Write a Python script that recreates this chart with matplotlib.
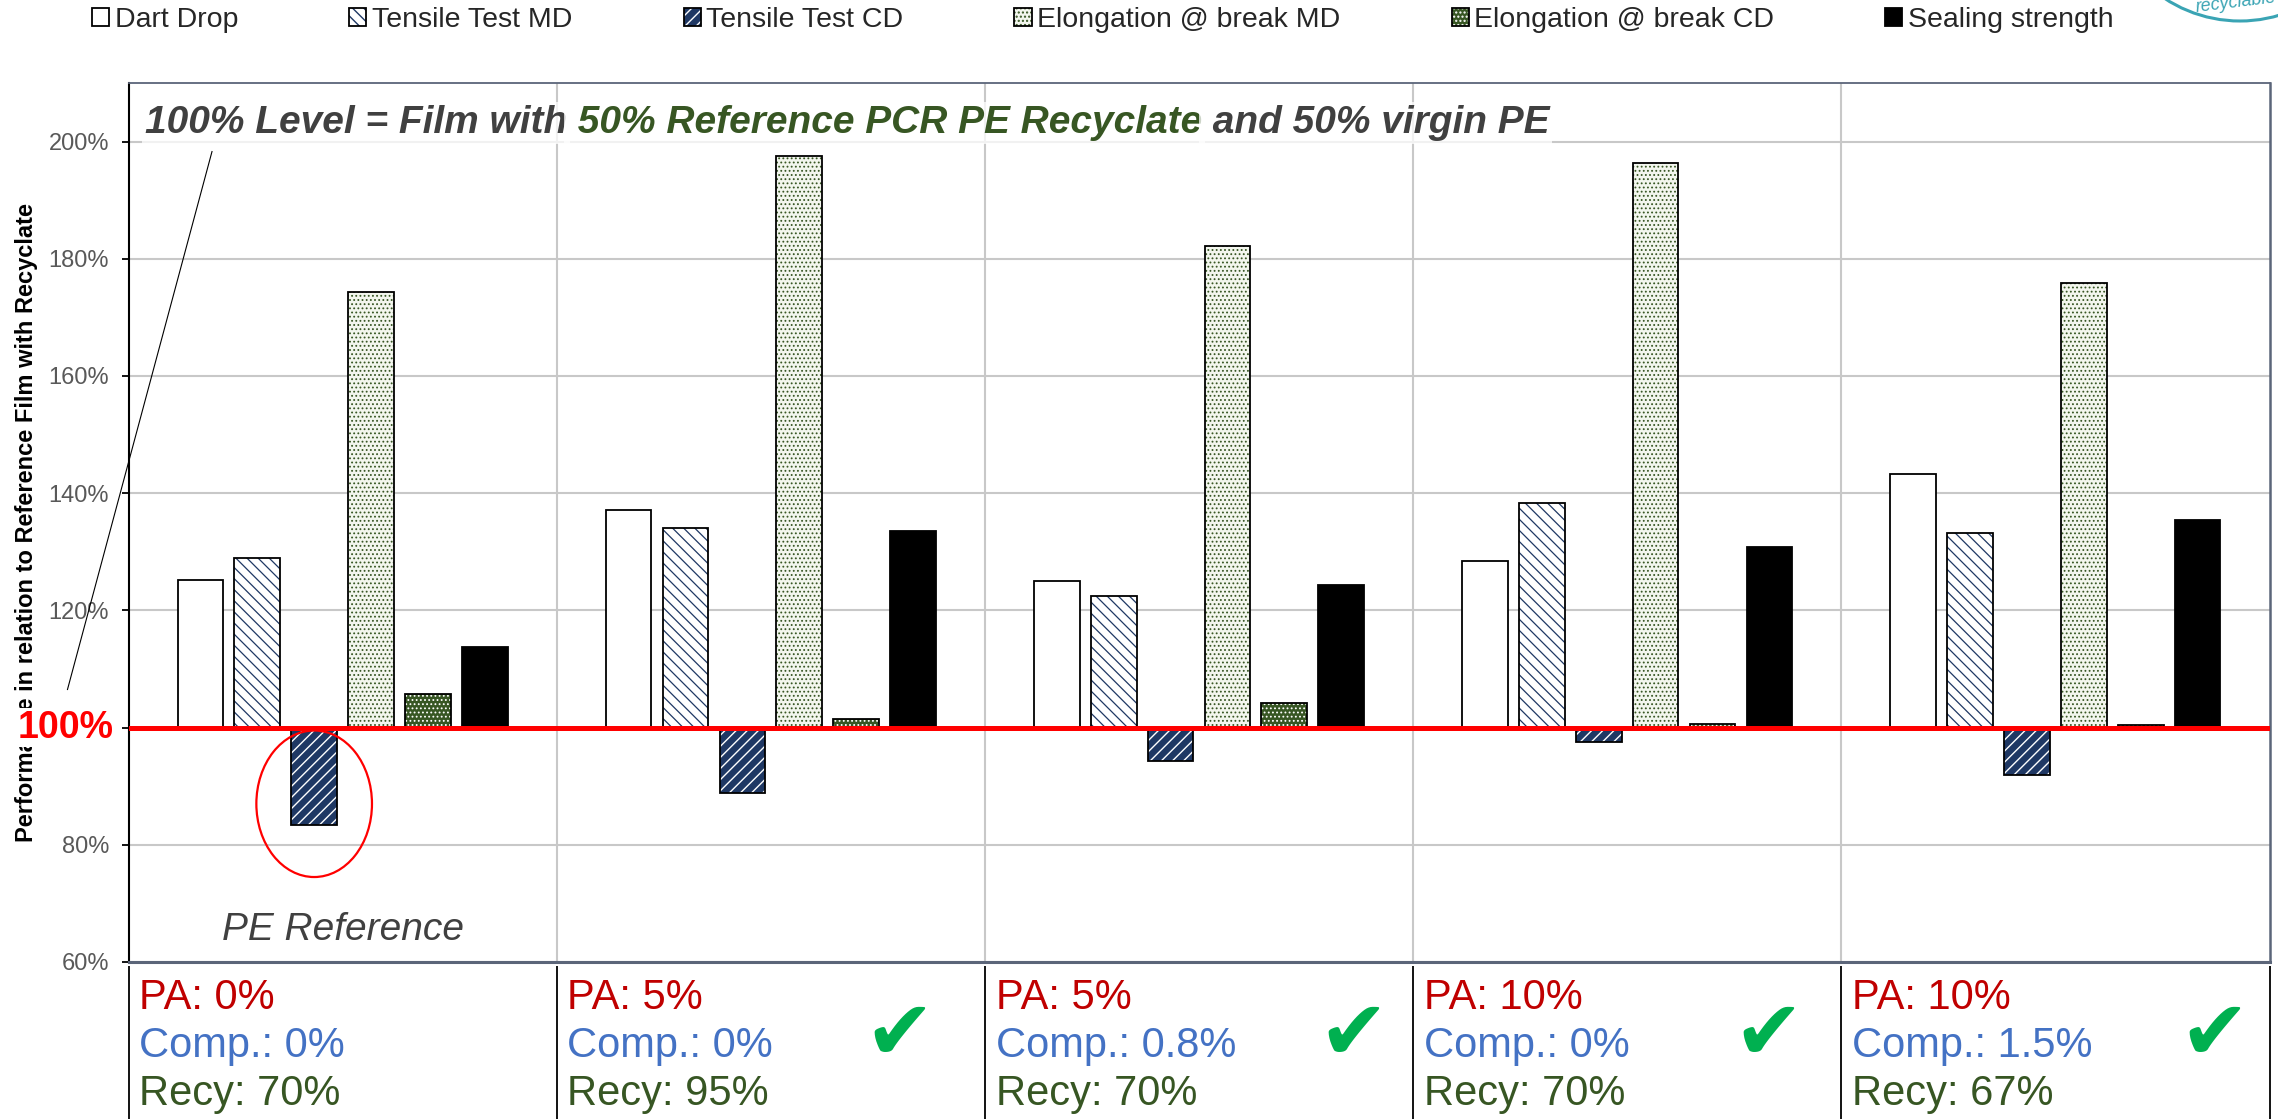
import matplotlib
matplotlib.use("Agg")
import matplotlib.pyplot as plt
import matplotlib.patches as mpatches
import matplotlib.transforms as mtransforms
import numpy as np

plt.rcParams["font.family"] = ["Liberation Sans", "DejaVu Sans"]
plt.rcParams["hatch.linewidth"] = 1.0

# | ---------- data ---------- |
SERIES = ["Dart Drop", "Tensile Test MD", "Tensile Test CD",
          "Elongation @ break MD", "Elongation @ break CD", "Sealing strength"]

dart_drop  = [125.2, 137.1, 125.1, 128.4, 143.3]
tensile_md = [128.9, 134.1, 122.4, 138.4, 133.2]
tensile_cd = [83.4, 88.8, 94.3, 97.5, 91.9]
elong_md   = [174.4, 197.5, 182.1, 196.3, 175.9]
elong_cd   = [105.7, 101.5, 104.2, 100.6, 100.5]
sealing    = [113.7, 133.6, 124.4, 130.8, 135.4]

PA_SHARE   = ["0%", "5%", "5%", "10%", "10%"]
COMP_SHARE = ["0%", "0%", "0.8%", "0%", "1.5%"]
RECY_SHARE = ["70%", "95%", "70%", "70%", "67%"]
PASSED     = [False, True, True, True, True]

Y_TICKS = [60, 80, 100, 120, 140, 160, 180, 200]

# | ---------- style ---------- |
NAVY     = "#1f3864"
GREEN_DK = "#375623"
GRID     = "#c8c8c8"
SLATE    = "#5b6579"
TICK_TXT = "#595959"
TITLE_TXT = "#404040"
RED      = "#ff0000"
PA_RED   = "#c00000"
COMP_BLUE = "#4472c4"
CHECK_GREEN = "#00b050"
TEAL     = "#3aa4b4"

STYLES = [
    dict(face="white",   hatch=None,       hcolor="black",  hlw=1.0),
    dict(face="white",   hatch="\\\\\\",   hcolor=NAVY,     hlw=0.9),
    dict(face=NAVY,      hatch="///",      hcolor="white",  hlw=1.0),
    dict(face="#f3f6ee", hatch="....",     hcolor=GREEN_DK, hlw=0.8),
    dict(face=GREEN_DK,  hatch="....",     hcolor="white",  hlw=0.8),
    dict(face="black",   hatch=None,       hcolor="black",  hlw=1.0),
]

SLOT  = 0.1328
BAR_W = 0.1066
CHECK_DX = [0.0, 0.30, 0.36, 0.33, 0.37]

W, H = 2278, 1119
fig = plt.figure(figsize=(W / 100, H / 100), dpi=100)
fig.patch.set_facecolor("white")
ax = fig.add_axes([128.5 / W, 1 - 962 / H, (2269.5 - 128.5) / W, 879 / H])
ax.set_axisbelow(True)

values = [dart_drop, tensile_md, tensile_cd, elong_md, elong_cd, sealing]
x = np.arange(len(dart_drop))

handles = []
for i, (vals, st) in enumerate(zip(values, STYLES)):
    xs = x + (i - 2.5) * SLOT
    heights = np.array(vals) - 100
    fill = ax.bar(xs, heights, BAR_W, bottom=100, color=st["face"],
                  edgecolor=st["hcolor"], hatch=st["hatch"], linewidth=0, zorder=2)
    edge = ax.bar(xs, heights, BAR_W, bottom=100, fill=False,
                  edgecolor="black", linewidth=1.3, zorder=2.1)
    for p in fill:
        if hasattr(p, "set_hatch_linewidth"):
            p.set_hatch_linewidth(st["hlw"])
    handles.append((fill[0], edge[0]))

# 100% reference line
ax.axhline(100, color=RED, linewidth=3.6, zorder=3)

# | ---------- axes styling ---------- |
ax.set_xlim(-0.5, len(x) - 0.5)
ax.set_ylim(60, 210)
ax.set_yticks(Y_TICKS)
ax.set_yticklabels(["" if t == 100 else f"{t}%" for t in Y_TICKS])
ax.tick_params(axis="y", direction="out", length=5, width=1.3, color="black",
               labelsize=17, labelcolor=TICK_TXT, pad=9)
ax.set_xticks([])
ax.set_xticks(x[:-1] + 0.5, minor=True)
ax.tick_params(axis="x", which="both", length=0, labelbottom=False)
ax.yaxis.grid(True, color=GRID, linewidth=1.5)
ax.xaxis.grid(True, which="minor", color=GRID, linewidth=1.5)

ax.spines["left"].set_color("black"); ax.spines["left"].set_linewidth(1.5)
ax.spines["top"].set_color(SLATE); ax.spines["top"].set_linewidth(1.3)
ax.spines["right"].set_color(SLATE); ax.spines["right"].set_linewidth(1.8)
ax.spines["bottom"].set_color(SLATE); ax.spines["bottom"].set_linewidth(2.2)

ax.set_ylabel("Performance in relation to Reference Film with Recyclate",
              fontsize=17, fontweight="bold", color="black")
ax.yaxis.set_label_coords(-0.0425, 0.5)

ax_y = mtransforms.blended_transform_factory(ax.transAxes, ax.transData)
ax.text(-0.0068, 100, "100%", transform=ax_y, ha="right", va="center",
        fontsize=27, fontweight="bold", color=RED, zorder=6,
        bbox=dict(facecolor="white", edgecolor="none", pad=1))

# headline inside plot
tprops = dict(fontsize=28, fontweight="bold", style="italic", va="bottom", ha="left",
              zorder=5, bbox=dict(facecolor="white", edgecolor="none", alpha=0.75, pad=2))
t1 = ax.text(0.0075, 0.934, "100% Level = Film with", transform=ax.transAxes,
             color=TITLE_TXT, **tprops)
t2 = ax.annotate(" 50% Reference PCR PE Recyclate", xy=(1, 0), xycoords=t1,
                 color=GREEN_DK, **tprops)
ax.annotate(" and 50% virgin PE", xy=(1, 0), xycoords=t2, color=TITLE_TXT, **tprops)

# pointer line from headline to the 100% label
ax.plot([0.039, -0.0285], [0.922, 0.31], transform=ax.transAxes,
        color="black", linewidth=0.8, clip_on=False, zorder=7)

# highlight of the weak CD value in the reference
ax.add_patch(mpatches.Ellipse((x[0] - 0.5 * SLOT, 87), 0.27, 25, fill=False,
                              edgecolor=RED, linewidth=1.6, zorder=4))
ax.text(x[0], 65.4, "PE Reference", ha="center", va="center", style="italic",
        fontsize=28, color=TITLE_TXT)

# | ---------- table under the plot ---------- |
blend = mtransforms.blended_transform_factory(ax.transData, fig.transFigure)
ax.vlines(np.arange(len(x) + 1) - 0.5, 0, 1 - 966 / H, transform=blend,
          colors="black", linewidth=1.3, clip_on=False)
for gi in range(len(x)):
    x0 = gi - 0.5 + 0.025
    ax.text(x0, 1 - 998 / H, f"PA: {PA_SHARE[gi]}", transform=blend,
            color=PA_RED, fontsize=30, va="center", ha="left")
    ax.text(x0, 1 - 1046 / H, f"Comp.: {COMP_SHARE[gi]}", transform=blend,
            color=COMP_BLUE, fontsize=30, va="center", ha="left")
    ax.text(x0, 1 - 1094 / H, f"Recy: {RECY_SHARE[gi]}", transform=blend,
            color=GREEN_DK, fontsize=30, va="center", ha="left")
    if PASSED[gi]:
        ax.text(gi + CHECK_DX[gi], 1 - 1036 / H, "\u2714", transform=blend,
                color=CHECK_GREEN, fontsize=60, va="center", ha="center",
                family=["DejaVu Sans"])

# | ---------- legend ---------- |
fig.legend(handles, SERIES, loc="center left", bbox_to_anchor=(92 / W, 1 - 20 / H),
           ncol=6, frameon=False, fontsize=20.5, labelcolor="#262626",
           handlelength=0.6, handleheight=0.6, handletextpad=0.2,
           columnspacing=3.9, borderpad=0, borderaxespad=0)

# | ---------- cropped logo, top right ---------- |
px = mtransforms.IdentityTransform()
fig.add_artist(mpatches.Circle((2240, H + 116), 137, fill=False, edgecolor=TEAL,
                               linewidth=2.2, transform=px))
fig.text(2236, H - 3, "recyclable", transform=px, color=TEAL, fontsize=13,
         rotation=7, ha="center", va="center", style="italic")

fig.savefig("out.png", dpi=100, facecolor="white")
